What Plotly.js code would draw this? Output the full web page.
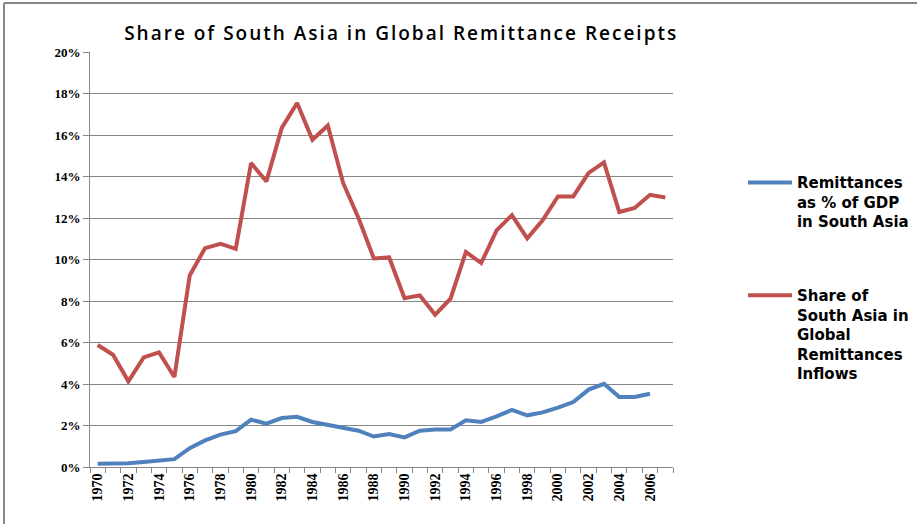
<!DOCTYPE html>
<html>
<head>
<meta charset="utf-8">
<script src="https://cdn.plot.ly/plotly-3.0.1.min.js"></script>
<style>
html,body{margin:0;padding:0;background:#fff;}
#chart{width:917px;height:524px;}
#chart .gtitle{letter-spacing:2px;}
</style>
</head>
<body>
<div id="chart"></div>
<script>
var years = [1970,1971,1972,1973,1974,1975,1976,1977,1978,1979,1980,1981,1982,1983,1984,1985,1986,1987,1988,1989,1990,1991,1992,1993,1994,1995,1996,1997,1998,1999,2000,2001,2002,2003,2004,2005,2006,2007];
var remitGDP = [0.16,0.16,0.18,0.24,0.29,0.38,0.91,1.28,1.56,1.73,2.28,2.09,2.36,2.42,2.17,2.04,1.88,1.75,1.47,1.59,1.43,1.75,1.81,1.81,2.25,2.17,2.44,2.75,2.49,2.63,2.86,3.13,3.73,4.01,3.37,3.37,3.53];
var shareSA = [5.88,5.41,4.13,5.28,5.52,4.34,9.23,10.55,10.76,10.51,14.65,13.76,16.34,17.54,15.77,16.46,13.69,12.00,10.05,10.10,8.13,8.27,7.34,8.11,10.36,9.83,11.40,12.14,11.02,11.89,13.04,13.04,14.17,14.68,12.29,12.48,13.12,12.99];
var labelYears = [1970,1972,1974,1976,1978,1980,1982,1984,1986,1988,1990,1992,1994,1996,1998,2000,2002,2004,2006];
var seriesNames = ["Remittances<br>as % of GDP<br>in South Asia", "Share of<br>South Asia in<br>Global<br>Remittances<br>Inflows"];
var titleText = "Share of South Asia in Global Remittance Receipts";

function pct(a){ return a.map(function(v){ return v/100; }); }

var traces = [
  {x: years.slice(0, remitGDP.length), y: pct(remitGDP), type:'scatter', mode:'lines',
   name: seriesNames[0], legend:'legend', line:{color:'#4F81BD', width:4}},
  {x: years, y: pct(shareSA), type:'scatter', mode:'lines',
   name: seriesNames[1], legend:'legend2', line:{color:'#C0504D', width:4}}
];

var legFont = {family:'DejaVu Sans', size:15, color:'#000', weight:'bold'};

var layout = {
  width:917, height:524,
  margin:{l:90, r:244, t:52, b:57, autoexpand:false},
  paper_bgcolor:'#fff', plot_bgcolor:'#fff',
  title:{text:titleText, x:0.4375, xanchor:'center', y:0.937, yanchor:'middle',
         font:{family:'Open Sans', size:19, color:'#000', weight:600}},
  xaxis:{
    type:'linear', range:[1969.5, 2007.5], fixedrange:true,
    tickvals: labelYears, ticktext: labelYears.map(String), ticks:'',
    tickangle:-90, tickfont:{family:'Liberation Serif', size:14, color:'#000', weight:'bold'},
    showgrid:false, zeroline:false, showline:true, linecolor:'#868686', linewidth:1,
    minor:{tick0:1969.5, dtick:1, ticks:'outside', ticklen:5, tickcolor:'#868686', tickwidth:1, showgrid:false}
  },
  yaxis:{
    range:[0, 0.2], dtick:0.02, tickformat:'.0%', fixedrange:true,
    ticks:'outside', ticklen:6, tickcolor:'#868686',
    tickfont:{family:'Liberation Serif', size:13, color:'#000', weight:'bold'},
    showgrid:true, gridcolor:'#868686', gridwidth:1,
    zeroline:false, showline:true, linecolor:'#868686', linewidth:1
  },
  showlegend:true,
  legend:{x:1.12, xanchor:'left', y:0.725, yanchor:'top', valign:'top', itemwidth:44,
          font:legFont, bgcolor:'rgba(0,0,0,0)'},
  legend2:{x:1.12, xanchor:'left', y:0.453, yanchor:'top', valign:'top', itemwidth:44,
          font:legFont, bgcolor:'rgba(0,0,0,0)'},
  shapes:[
    {type:'line', xref:'paper', yref:'paper', x0:-0.1475, x1:1.45, y0:1.118, y1:1.118, line:{color:'#888', width:2}},
    {type:'line', xref:'paper', yref:'paper', x0:-0.1475, x1:-0.1475, y0:1.118, y1:-0.14, line:{color:'#888', width:2}}
  ]
};

Plotly.newPlot('chart', traces, layout, {displayModeBar:false, staticPlot:true});
</script>
</body>
</html>
